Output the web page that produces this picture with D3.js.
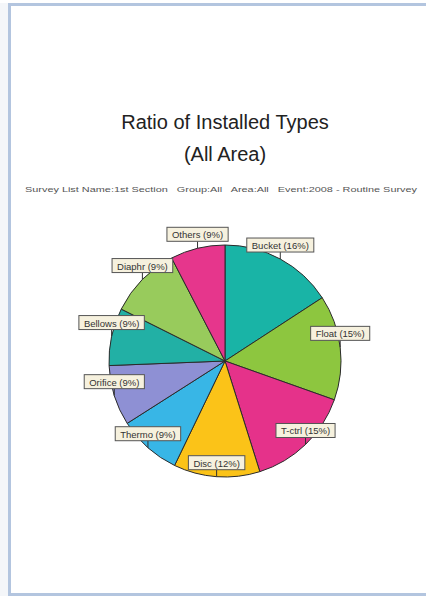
<!DOCTYPE html>
<html>
<head>
<meta charset="utf-8">
<script src="https://cdn.jsdelivr.net/npm/d3@7"></script>
<style>
  html, body { margin: 0; padding: 0; background: #f4f6f9; }
  svg { display: block; }
</style>
</head>
<body>
<div id="chart"></div>
<script>
// chart data
const categories = ['Bucket', 'Float', 'T-ctrl', 'Disc', 'Thermo', 'Orifice', 'Bellows', 'Diaphr', 'Others'];
const shares = [15.8, 14.6, 14.7, 12.0, 8.8, 8.4, 8.0, 10.0, 7.6];
const pctLabels = ['16%', '15%', '15%', '12%', '9%', '9%', '9%', '9%', '9%'];
const sliceColors = ['#19b4a6', '#8dc63f', '#e5328a', '#fbc318', '#38b6e6', '#8e90d4', '#22b0a5', '#98cb5c', '#e6368c'];

const title = ['Ratio of Installed Types', '(All Area)'];
const subtitle = 'Survey List Name:1st Section   Group:All   Area:All   Event:2008 - Routine Survey';

const width = 426, height = 596;
const cx = 225, cy = 361, radius = 116;

const svg = d3.select('#chart').append('svg')
    .attr('width', width)
    .attr('height', height);

// page frame
svg.append('rect')
    .attr('x', 0).attr('y', 0)
    .attr('width', width).attr('height', 3)
    .style('fill', 'white');
svg.append('rect')
    .attr('x', 9.5).attr('y', 4.5)
    .attr('width', width + 20).attr('height', 590)
    .style('fill', 'white')
    .style('stroke', '#b3c5df')
    .style('stroke-width', 3);

// titles
svg.selectAll('text.title')
    .data(title)
    .join('text')
    .classed('title', true)
    .attr('x', cx)
    .attr('y', (d, i) => 129 + i * 32)
    .text(d => d)
    .style('font-family', '"Liberation Sans", Arial, sans-serif')
    .style('font-size', '20px')
    .style('fill', '#222')
    .style('text-anchor', 'middle');

svg.append('text')
    .attr('x', 25)
    .attr('y', 192)
    .attr('textLength', 392)
    .attr('lengthAdjust', 'spacingAndGlyphs')
    .style('white-space', 'pre')
    .text(subtitle)
    .style('font-family', '"Liberation Sans", Arial, sans-serif')
    .style('font-size', '8px')
    .style('fill', '#555');

// pie
const pie = d3.pie().sort(null).value(d => d);
const arcs = pie(shares);
const arc = d3.arc().innerRadius(0).outerRadius(radius);
const color = d3.scaleOrdinal().domain(categories).range(sliceColors);

const g = svg.append('g').attr('transform', `translate(${cx},${cy})`);

g.selectAll('path.slice')
    .data(arcs)
    .join('path')
    .classed('slice', true)
    .attr('d', arc)
    .style('fill', (d, i) => color(categories[i]))
    .style('stroke', '#2b2b2b')
    .style('stroke-width', 1);

// labels: anchor on the rim, box just above with a short leader
const anchor = d => {
    const a = (d.startAngle + d.endAngle) / 2;
    return [Math.sin(a) * radius, -Math.cos(a) * radius];
};

const labels = g.selectAll('g.label')
    .data(arcs)
    .join('g')
    .classed('label', true);

labels.append('line')
    .attr('x1', d => anchor(d)[0])
    .attr('y1', d => anchor(d)[1])
    .attr('x2', d => anchor(d)[0])
    .attr('y2', d => anchor(d)[1] - 7)
    .style('stroke', '#333')
    .style('stroke-width', 1);

const boxes = labels.append('rect');
const texts = labels.append('text')
    .attr('x', d => anchor(d)[0])
    .attr('y', d => anchor(d)[1] - 10)
    .text((d, i) => `${categories[i]} (${pctLabels[i]})`)
    .style('font-family', '"Liberation Sans", Arial, sans-serif')
    .style('font-size', '9.5px')
    .style('fill', '#333')
    .style('text-anchor', 'middle');

texts.each(function(d, i) {
    const w = this.getComputedTextLength() + 10;
    const [x, y] = anchor(d);
    d3.select(boxes.nodes()[i])
        .attr('x', x - w / 2)
        .attr('y', y - 21)
        .attr('width', w)
        .attr('height', 14)
        .style('fill', '#f6f1de')
        .style('stroke', '#555')
        .style('stroke-width', 1);
});
</script>
</body>
</html>
